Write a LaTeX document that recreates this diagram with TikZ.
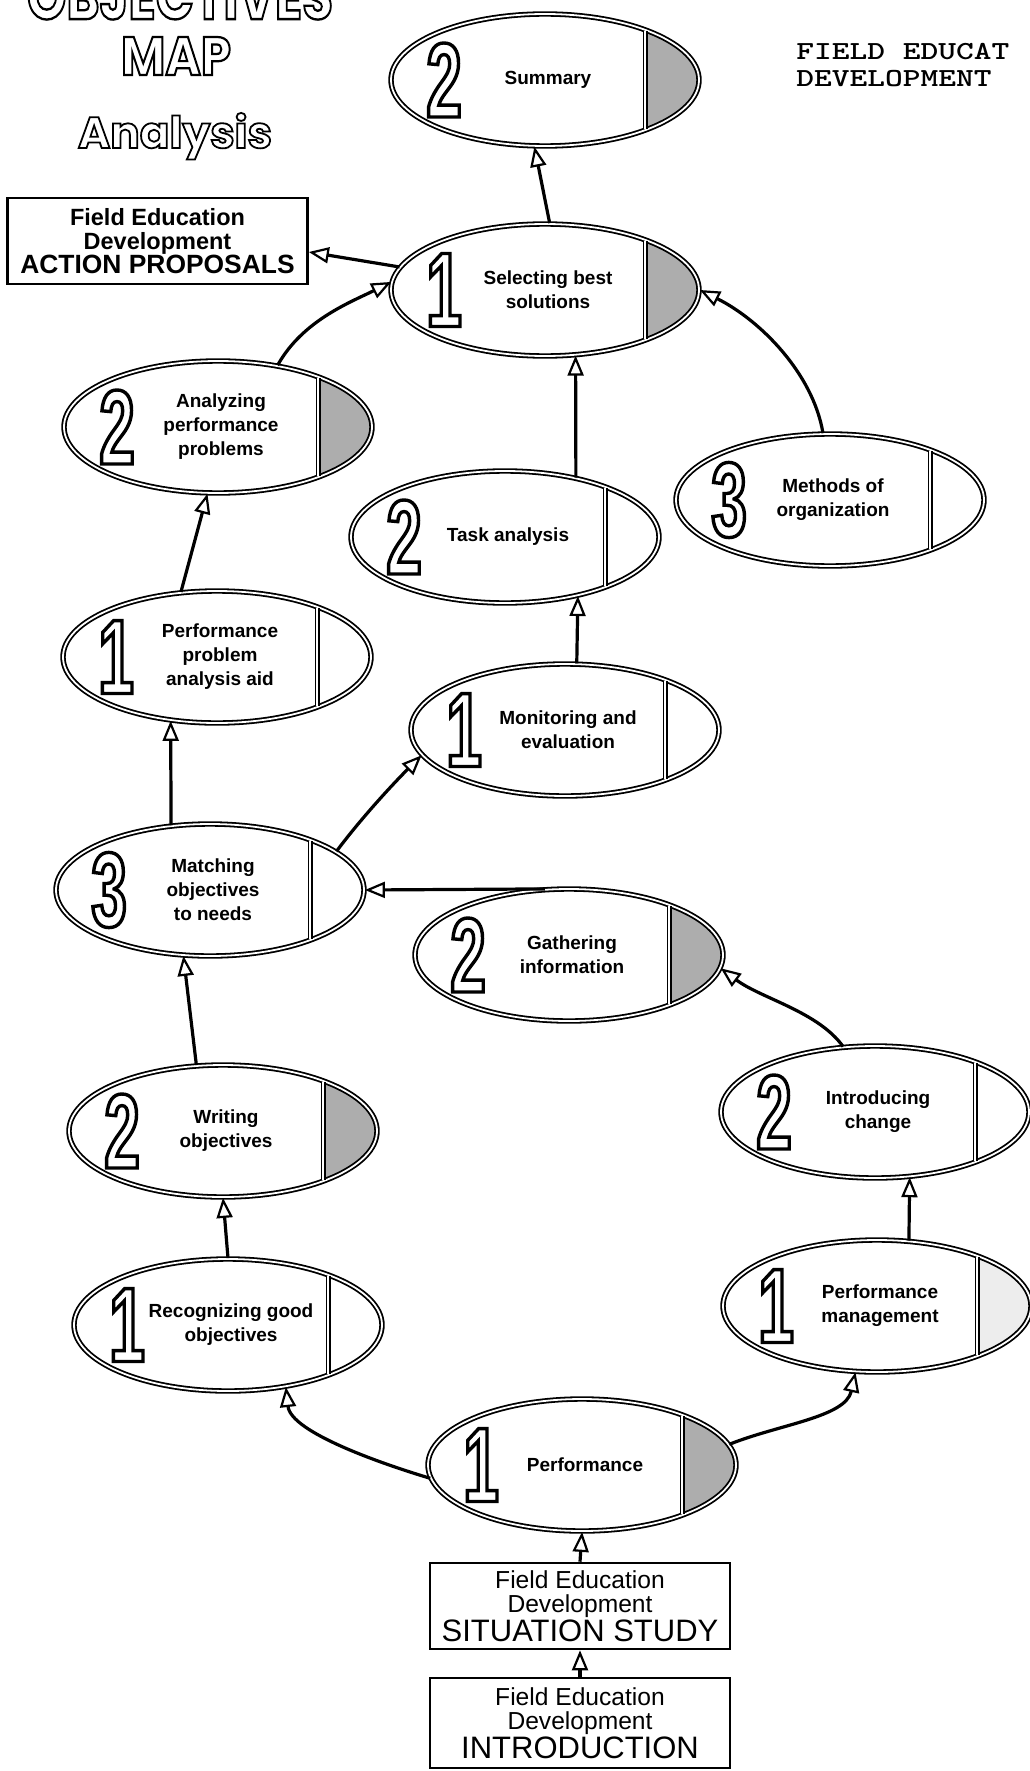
\documentclass[tikz,border=0pt]{standalone}
\usepackage{fontspec}
\setmainfont{Liberation Sans}
\newfontfamily\titlefont{Poppins}
\newfontfamily\digfont{Liberation Sans}[UprightFont={* Bold}, FakeStretch=0.6]
\usepackage{graphicx}
\usetikzlibrary{arrows.meta,shapes.geometric}

% outlined (stroked, unfilled) text
\newcommand{\hollow}[2]{\special{pdf:literal direct 1 Tr #1 w}#2\special{pdf:literal direct 0 Tr}}
\newcommand{\bignum}[1]{{\digfont\fontsize{53}{53}\selectfont\hollow{1.7}{#1}}}

\newcommand{\objnode}[6]{%
  \begin{scope}
    \clip (#2,#3) ellipse (154 and 66);
    \fill[#6] (#2+100,#3-70) rectangle (#2+160,#3+70);
  \end{scope}
  \node[objell] (#1) at (#2,#3) {};
  \draw[divline] (#2+100,#3-49) -- (#2+100,#3+49);
  \node[numnode] at (#2-119,#3) {\bignum{#4}};
  \node[objtext] at (#2+3,#3) {#5};
}

\begin{document}
\begin{tikzpicture}[x=0.5pt,y=-0.5pt,
  objell/.style={ellipse, draw=black, line width=0.9pt, double=white, double distance=0.9pt, minimum width=154pt, minimum height=66pt, inner sep=0pt},
  divline/.style={draw=black, line width=0.8pt, double=white, double distance=0.9pt},
  numnode/.style={anchor=west, inner sep=0pt},
  objtext/.style={align=center, inner sep=0pt, font={\fontsize{9.5}{12}\selectfont\bfseries}},
  shadecap/.style={fill=black!32},
  lightcap/.style={fill=black!7},
  nocap/.style={fill=white},
  box/.style={draw=black, line width=1.3pt, inner sep=0pt, minimum width=150pt, minimum height=43pt, align=center},
  conn/.style={line width=1.6pt, -{Triangle[open,length=10pt,width=8pt,line width=1.1pt]}},
  ttext/.style={anchor=base west, inner sep=0pt, font={\ttfamily\bfseries\fontsize{13}{13}\selectfont}},
]
\useasboundingbox[fill=white] (0,0) rectangle (1029,1771);

% titles
\node[inner sep=0pt, anchor=south] (t1) at (180,20) {\resizebox*{153pt}{23pt}{\titlefont\bfseries\fontsize{30}{30}\selectfont\hollow{1.1}{OBJECTIVES}}};
\node[inner sep=0pt] (t2) at (176,56) {\resizebox{55pt}{19pt}{\titlefont\bfseries\fontsize{27}{27}\selectfont\hollow{1.1}{MAP}}};
\node[inner sep=0pt, anchor=base] (t3) at (175,148) {\resizebox{97pt}{!}{\titlefont\bfseries\fontsize{27}{27}\selectfont\hollow{1.1}{Analysis}}};

\node[ttext] (fe1) at (796,60) {\scalebox{1.3}[1]{FIELD EDUCAT}};
\node[ttext] (fe2) at (796,87) {\scalebox{1.3}[1]{DEVELOPMENT}};

% boxes
\node[box, font=\bfseries] (act) at (157.5,241) {{\fontsize{11.75}{11}\selectfont Field Education}\\{\fontsize{11.75}{11}\selectfont Development}\\{\fontsize{13.2}{13}\selectfont ACTION PROPOSALS}};
\node[box] (sit) at (580,1606) {{\fontsize{12.3}{12}\selectfont Field Education}\\{\fontsize{12.3}{12}\selectfont Development}\\{\fontsize{15.5}{15}\selectfont SITUATION STUDY}};
\node[box, minimum height=45pt] (ibox) at (580,1723) {{\fontsize{12.3}{12}\selectfont Field Education}\\{\fontsize{12.3}{12}\selectfont Development}\\{\fontsize{15.5}{15}\selectfont INTRODUCTION}};

% objectives
\objnode{sum}{545}{80}{2}{Summary}{shadecap}
\objnode{det}{545}{290}{1}{Selecting best\\solutions}{shadecap}
\objnode{ana}{218}{427}{2}{Analyzing\\performance\\problems}{shadecap}
\objnode{task}{505}{537}{2}{Task analysis}{nocap}
\objnode{meth}{830}{500}{3}{Methods of\\organization}{nocap}
\objnode{paid}{217}{657}{1}{Performance\\problem\\analysis aid}{nocap}
\objnode{mon}{565}{730}{1}{Monitoring and\\evaluation}{nocap}
\objnode{match}{210}{890}{3}{Matching\\objectives\\to needs}{nocap}
\objnode{gath}{569}{955}{2}{Gathering\\information}{shadecap}
\objnode{writ}{223}{1131}{2}{Writing\\objectives}{shadecap}
\objnode{intro}{875}{1112}{2}{Introducing\\change}{nocap}
\objnode{recog}{228}{1325}{1}{Recognizing good\\objectives}{nocap}
\objnode{pmgmt}{877}{1306}{1}{Performance\\management}{lightcap}
\objnode{perf}{582}{1465}{1}{Performance}{shadecap}

% connectors
\draw[conn] (det.86) -- (sum.261);
\draw[conn] (det.171) -- ([yshift=-5.5pt]act.east);
\draw[conn] (ana.46) .. controls +(25,-45) and +(-40,20) .. (det.177);
\draw[conn] (task.40) -- (det.295);
\draw[conn] (meth.96) .. controls +(-10,-60) and +(60,30) .. (det.east);
\draw[conn] (paid.119) -- (ana.261);
\draw[conn] (match.121) -- (paid.234);
\draw[conn] (match.17) .. controls +(30,-40) and +(-20,20) .. (mon.190);
\draw[conn] (mon.80) -- (task.321);
\draw[conn] (gath.110) -- (match.east);
\draw[conn] (intro.116) .. controls +(-25,-35) and +(40,30) .. (gath.-5);
\draw[conn] (writ.112) -- (match.248);
\draw[conn] (recog.north) -- (writ.south);
\draw[conn] (perf.185) .. controls +(-50,-15) and +(5,45) .. (recog.313);
\draw[conn] (perf.8) .. controls +(50,-20) and +(-10,45) .. (pmgmt.252);
\draw[conn] (pmgmt.64) -- (intro.298);
\draw[conn] (sit.north) -- (perf.south);
\draw[conn] (ibox.north) -- (sit.south);
\end{tikzpicture}
\end{document}
